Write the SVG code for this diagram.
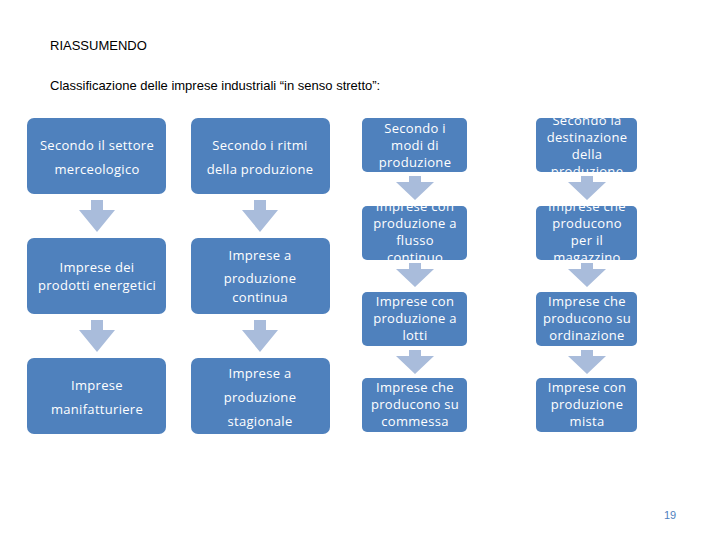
<svg xmlns="http://www.w3.org/2000/svg" width="720" height="540" viewBox="0 0 720 540">
<style>
.b{fill:#4F81BD}
.t{fill:#fff;font-family:"Open Sans","DejaVu Sans",sans-serif;font-size:13px;text-anchor:middle;letter-spacing:0.3px}
.a{fill:#A9BCDB}
.h{font-family:"Liberation Sans",Calibri,sans-serif;font-size:13px;fill:#000}
</style>
<defs>
<clipPath id="c1"><rect x="362" y="118" width="105" height="54"/></clipPath>
<clipPath id="c2"><rect x="536" y="118" width="101" height="54"/></clipPath>
<clipPath id="c3"><rect x="362" y="206" width="105" height="54"/></clipPath>
<clipPath id="c4"><rect x="536" y="206" width="101" height="54"/></clipPath>
</defs>
<rect width="720" height="540" fill="#fff"/>
<text class="h" x="50" y="50">RIASSUMENDO</text>
<text class="h" x="50" y="90">Classificazione delle imprese industriali “in senso stretto”:</text>
<g id="connectors">
<path class="a" d="M91 200h12v10h12l-18 22l-18-22h12z"/>
<path class="a" d="M91 320h12v10h12l-18 22l-18-22h12z"/>
<path class="a" d="M254 200h12v10h12l-18 22l-18-22h12z"/>
<path class="a" d="M254 320h12v10h12l-18 22l-18-22h12z"/>
<path class="a" d="M409 176h12v6h13l-19 18l-19-18h13z"/>
<path class="a" d="M581 176h12v6h13l-19 18l-19-18h13z"/>
<path class="a" d="M409 263h12v6h13l-19 18l-19-18h13z"/>
<path class="a" d="M581 263h12v6h13l-19 18l-19-18h13z"/>
<path class="a" d="M409 350h12v6h13l-19 18l-19-18h13z"/>
<path class="a" d="M581 350h12v6h13l-19 18l-19-18h13z"/>
</g>
<g id="n1"><rect class="b" x="27" y="118" width="139" height="76" rx="7"/><text class="t" x="97" y="150">Secondo il settore</text><text class="t" x="97" y="174">merceologico</text></g>
<g id="n2"><rect class="b" x="27" y="238" width="139" height="76" rx="7"/><text class="t" x="97" y="272">Imprese dei</text><text class="t" x="97" y="290">prodotti energetici</text></g>
<g id="n3"><rect class="b" x="27" y="358" width="139" height="76" rx="7"/><text class="t" x="97" y="390">Imprese</text><text class="t" x="97" y="414">manifatturiere</text></g>
<g id="n4"><rect class="b" x="191" y="118" width="139" height="76" rx="7"/><text class="t" x="260" y="150">Secondo i ritmi</text><text class="t" x="260" y="174">della produzione</text></g>
<g id="n5"><rect class="b" x="191" y="238" width="139" height="76" rx="7"/><text class="t" x="260" y="260">Imprese a</text><text class="t" x="260" y="283">produzione</text><text class="t" x="260" y="302">continua</text></g>
<g id="n6"><rect class="b" x="191" y="358" width="139" height="76" rx="7"/><text class="t" x="260" y="378">Imprese a</text><text class="t" x="260" y="402">produzione</text><text class="t" x="260" y="426">stagionale</text></g>
<g id="n7"><rect class="b" x="362" y="118" width="105" height="54" rx="5"/><g clip-path="url(#c1)"><text class="t" x="415" y="133">Secondo i</text><text class="t" x="415" y="150">modi di</text><text class="t" x="415" y="167">produzione</text></g></g>
<g id="n8"><rect class="b" x="536" y="118" width="101" height="54" rx="5"/><g clip-path="url(#c2)"><text class="t" x="587" y="125">Secondo la</text><text class="t" x="587" y="142">destinazione</text><text class="t" x="587" y="159">della</text><text class="t" x="587" y="176">produzione</text></g></g>
<g id="n9"><rect class="b" x="362" y="206" width="105" height="54" rx="5"/><g clip-path="url(#c3)"><text class="t" x="415" y="211">Imprese con</text><text class="t" x="415" y="228">produzione a</text><text class="t" x="415" y="245">flusso</text><text class="t" x="415" y="262">continuo</text></g></g>
<g id="n10"><rect class="b" x="536" y="206" width="101" height="54" rx="5"/><g clip-path="url(#c4)"><text class="t" x="587" y="211">Imprese che</text><text class="t" x="587" y="228">producono</text><text class="t" x="587" y="245">per il</text><text class="t" x="587" y="262">magazzino</text></g></g>
<g id="n11"><rect class="b" x="362" y="292" width="105" height="54" rx="5"/><text class="t" x="415" y="306">Imprese con</text><text class="t" x="415" y="323">produzione a</text><text class="t" x="415" y="340">lotti</text></g>
<g id="n12"><rect class="b" x="536" y="292" width="101" height="54" rx="5"/><text class="t" x="587" y="306">Imprese che</text><text class="t" x="587" y="323">producono su</text><text class="t" x="587" y="340">ordinazione</text></g>
<g id="n13"><rect class="b" x="362" y="378" width="105" height="54" rx="5"/><text class="t" x="415" y="392">Imprese che</text><text class="t" x="415" y="409">producono su</text><text class="t" x="415" y="426">commessa</text></g>
<g id="n14"><rect class="b" x="536" y="378" width="101" height="54" rx="5"/><text class="t" x="587" y="392">Imprese con</text><text class="t" x="587" y="409">produzione</text><text class="t" x="587" y="426">mista</text></g>
<text x="670" y="519" style="font-family:'Liberation Sans',sans-serif;font-size:11px;fill:#4F81BD;text-anchor:middle">19</text>
</svg>
